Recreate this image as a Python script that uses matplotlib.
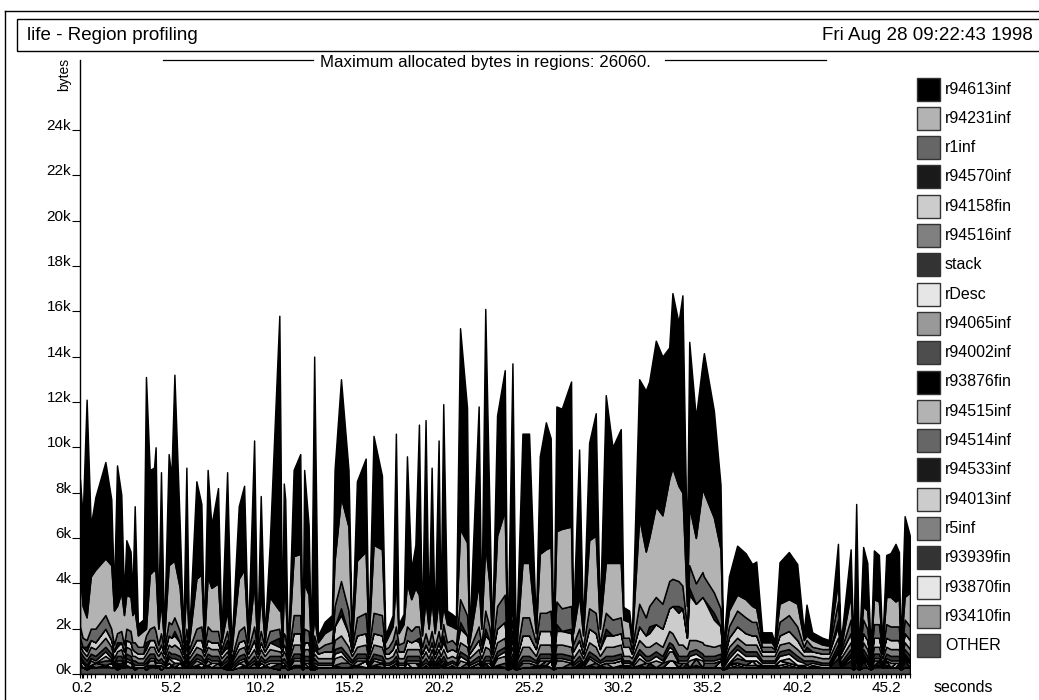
import numpy as np
import matplotlib
matplotlib.use("Agg")
import matplotlib.pyplot as plt
from matplotlib.patches import Rectangle
from matplotlib.lines import Line2D

plt.rcParams['font.family'] = ['Liberation Sans', 'DejaVu Sans']

# ---------------- data ----------------
times = [0.09, 0.24, 0.46, 0.69, 0.95, 1.51, 1.84, 1.99, 2.16, 2.40,
         2.55, 2.68, 2.92, 3.02, 3.15, 3.33, 3.62, 3.78, 3.99, 4.23,
         4.32, 4.47, 4.62, 4.79, 5.05, 5.20, 5.37, 5.67, 5.87, 6.04,
         6.19, 6.60, 6.88, 7.03, 7.23, 7.44, 7.81, 8.00, 8.32, 8.56,
         8.97, 9.27, 9.49, 9.83, 10.01, 10.20, 10.42, 10.70, 11.24, 11.30,
         11.39, 11.49, 11.57, 11.72, 12.04, 12.41, 12.54, 12.63, 12.88, 13.01,
         13.19, 13.40, 13.77, 14.18, 14.33, 14.69, 15.11, 15.30, 15.58, 16.07,
         16.23, 16.51, 16.98, 17.17, 17.35, 17.58, 17.76, 17.91, 18.19, 18.38,
         18.62, 18.85, 19.05, 19.22, 19.42, 19.59, 19.76, 19.93, 20.15, 20.26,
         20.41, 20.62, 20.90, 21.12, 21.35, 21.74, 21.87, 22.39, 22.54, 22.76,
         22.99, 23.14, 23.42, 23.85, 24.00, 24.28, 24.47, 24.84, 25.21, 25.59,
         25.81, 26.15, 26.42, 26.57, 26.74, 27.04, 27.56, 27.67, 28.01, 28.23,
         28.57, 28.94, 29.17, 29.50, 29.88, 30.34, 30.49, 30.81, 30.96, 31.37,
         31.74, 31.93, 32.30, 32.67, 33.05, 33.23, 33.57, 33.79, 34.04, 34.17,
         34.54, 34.91, 34.99, 35.55, 35.92, 36.07, 36.39, 36.85, 37.32, 37.69,
         37.92, 38.25, 38.77, 38.94, 39.22, 39.74, 40.21, 40.58, 40.73, 41.05,
         41.61, 41.98, 42.49, 42.64, 43.20, 43.35, 43.51, 43.66, 43.90, 44.13,
         44.32, 44.50, 44.78, 44.97, 45.19, 45.43, 45.71, 45.90, 45.99, 46.22,
         46.52]

# total allocated (kbytes) read from the top of the stack
total_k = [8.6, 6.9, 12.1, 6.55, 7.8, 9.35, 7.7, 3.6, 9.2, 7.9,
           3.4, 5.9, 5.4, 3.5, 7.4, 2.2, 2.4, 13.1, 9.0, 9.1,
           10.0, 2.5, 8.9, 1.7, 9.7, 8.7, 13.2, 6.55, 1.7, 9.1,
           1.7, 8.5, 7.5, 1.7, 9.0, 6.55, 8.2, 1.7, 8.9, 1.2,
           7.4, 8.3, 1.7, 10.3, 1.5, 7.85, 1.7, 5.7, 15.8, 10.8,
           1.7, 8.4, 7.7, 0.9, 9.0, 9.7, 0.9, 9.0, 6.55, 1.2,
           14.0, 1.7, 2.3, 2.6, 9.0, 13.0, 9.0, 1.7, 8.5, 9.5,
           1.7, 10.5, 8.75, 1.7, 2.1, 2.6, 10.6, 2.2, 2.65, 9.6,
           4.6, 5.7, 11.0, 2.0, 11.2, 2.5, 9.1, 2.2, 10.3, 2.5,
           11.9, 2.8, 2.65, 2.5, 15.25, 11.75, 1.7, 11.8, 2.5, 16.1,
           7.4, 1.7, 11.4, 13.4, 0.9, 13.7, 0.9, 10.6, 10.6, 2.2,
           9.6, 11.1, 10.4, 0.9, 11.8, 11.7, 12.9, 2.2, 9.9, 2.0,
           10.2, 11.5, 2.5, 12.3, 10.0, 10.8, 2.95, 2.8, 1.7, 13.0,
           12.5, 12.9, 14.7, 14.0, 14.4, 16.8, 15.5, 16.7, 5.3, 14.65,
           11.3, 13.7, 14.15, 11.6, 8.35, 1.2, 4.3, 5.66, 5.33, 4.85,
           4.96, 1.84, 1.84, 1.43, 4.93, 5.38, 4.85, 1.84, 3.06, 1.84,
           1.6, 1.5, 5.74, 1.35, 5.5, 1.2, 7.5, 0.9, 5.6, 4.9,
           1.0, 5.45, 5.25, 1.35, 5.25, 5.33, 5.74, 5.38, 1.2, 6.96,
           6.07]

# top of the r94231inf (light grey) band, kbytes
gray_top_k = [4.6, 3.0, 2.5, 4.3, 4.6, 5.1, 4.8, 2.8, 3.0, 3.6,
              2.6, 3.5, 3.4, 2.6, 2.8, 1.7, 1.9, 2.0, 4.4, 4.6,
              4.5, 2.0, 3.2, 1.4, 4.8, 4.9, 5.0, 3.8, 1.4, 3.9,
              1.4, 4.2, 4.4, 1.4, 4.3, 3.8, 4.0, 1.4, 2.8, 1.0,
              4.2, 4.6, 1.4, 4.0, 1.2, 3.6, 1.4, 3.4, 2.8, 3.0,
              1.4, 3.5, 3.5, 0.8, 5.2, 5.3, 0.8, 4.0, 3.5, 1.0,
              2.5, 1.4, 1.8, 2.0, 5.0, 7.8, 6.5, 1.4, 5.0, 5.4,
              1.4, 5.7, 5.5, 1.4, 1.7, 2.1, 4.1, 1.8, 2.2, 4.0,
              3.3, 3.8, 3.5, 1.7, 3.3, 2.0, 3.3, 1.8, 3.3, 2.0,
              3.0, 2.2, 2.1, 2.0, 6.4, 5.8, 1.4, 4.0, 2.0, 5.7,
              4.0, 1.4, 6.1, 7.2, 0.8, 3.0, 0.8, 4.9, 4.9, 1.8,
              5.3, 5.5, 5.6, 0.8, 6.3, 6.4, 6.5, 1.8, 3.5, 1.7,
              5.9, 6.1, 2.0, 4.9, 4.9, 4.9, 2.4, 2.3, 1.4, 6.9,
              5.4, 6.0, 7.4, 7.0, 8.6, 9.1, 8.3, 8.0, 3.0, 7.4,
              6.0, 8.2, 8.0, 6.9, 5.5, 1.0, 2.8, 3.5, 3.3, 3.0,
              2.9, 1.4, 1.4, 1.2, 3.1, 3.3, 3.1, 1.5, 1.7, 1.5,
              1.3, 1.25, 4.1, 1.1, 3.5, 1.0, 2.0, 0.8, 3.0, 2.8,
              0.85, 3.3, 3.2, 1.1, 3.4, 3.4, 3.2, 3.3, 1.0, 3.4,
              3.6]

# lower bands, in units of 100 bytes
other = [3, 3, 2, 3, 3, 3, 3, 3, 2, 3,  3, 3, 3, 3, 2, 3, 3, 2, 3, 3,
         3, 3, 2, 3, 3, 3, 3, 3, 3, 3,  3, 3, 3, 3, 3, 3, 3, 3, 2, 2,
         3, 3, 3, 3, 3, 3, 3, 3, 2, 3,  3, 3, 3, 2, 3, 3, 2, 3, 3, 2,
         2, 3, 3, 3, 3, 3, 3, 3, 3, 3,  3, 3, 3, 3, 3, 3, 3, 3, 3, 3,
         3, 3, 3, 3, 3, 3, 3, 3, 3, 3,  3, 3, 3, 3, 3, 3, 3, 3, 3, 3,
         3, 3, 3, 3, 2, 3, 2, 3, 3, 3,  3, 3, 3, 2, 3, 3, 3, 3, 3, 3,
         3, 3, 3, 3, 3, 3, 3, 3, 3, 3,  3, 3, 3, 3, 3, 3, 3, 3, 3, 3,
         3, 3, 3, 3, 3, 2, 3, 3, 3, 3,  3, 3, 3, 3, 3, 3, 3, 3, 3, 3,
         3, 3, 3, 3, 3, 2, 3, 2, 3, 3,  2, 3, 3, 3, 3, 3, 3, 3, 2, 3,
         3]
rdesc = [1, 1, 1, 1, 1, 2, 1, 1, 1, 1,  1, 1, 1, 1, 1, 1, 1, 1, 1, 1,
         1, 1, 1, 1, 1, 1, 2, 1, 1, 1,  1, 1, 1, 1, 1, 1, 1, 1, 1, 1,
         1, 1, 1, 1, 1, 1, 1, 1, 1, 1,  1, 1, 1, 1, 1, 1, 1, 1, 1, 1,
         1, 1, 1, 1, 2, 2, 1, 1, 1, 1,  1, 1, 1, 1, 1, 1, 1, 1, 1, 1,
         1, 1, 1, 1, 1, 1, 1, 1, 1, 1,  1, 1, 1, 1, 2, 1, 1, 1, 1, 1,
         1, 1, 1, 2, 1, 1, 1, 1, 1, 1,  1, 1, 1, 1, 1, 1, 1, 1, 1, 1,
         1, 1, 1, 1, 1, 1, 1, 1, 1, 2,  1, 1, 2, 1, 2, 1, 1, 1, 1, 2,
         2, 1, 1, 1, 1, 1, 2, 2, 2, 2,  2, 1, 1, 1, 2, 2, 2, 1, 1, 1,
         1, 1, 1, 1, 1, 1, 1, 1, 1, 1,  1, 1, 1, 1, 1, 1, 1, 1, 1, 1,
         1]
stack = [2, 2, 2, 2, 2, 2, 2, 1, 2, 2,  1, 2, 2, 1, 2, 1, 1, 2, 2, 2,
         2, 1, 2, 1, 2, 2, 2, 2, 1, 2,  1, 2, 2, 1, 2, 2, 2, 1, 2, 1,
         2, 2, 1, 2, 1, 2, 1, 2, 2, 2,  1, 2, 2, 1, 2, 2, 1, 2, 2, 1,
         2, 1, 1, 1, 2, 2, 2, 1, 2, 2,  1, 2, 2, 1, 1, 1, 2, 1, 1, 2,
         2, 2, 2, 1, 2, 1, 2, 1, 2, 1,  2, 1, 1, 1, 2, 2, 1, 2, 1, 2,
         2, 1, 2, 2, 1, 2, 1, 2, 2, 1,  2, 2, 2, 1, 2, 2, 2, 1, 2, 1,
         2, 2, 1, 2, 2, 2, 1, 1, 1, 2,  2, 2, 2, 2, 2, 2, 2, 2, 2, 2,
         2, 2, 2, 2, 2, 1, 2, 2, 2, 2,  2, 1, 1, 1, 2, 2, 2, 1, 2, 1,
         1, 1, 2, 1, 2, 1, 2, 1, 2, 2,  1, 2, 2, 1, 2, 2, 2, 2, 1, 2,
         2]
r94516inf = [3, 2, 2, 3, 3, 4, 3, 2, 2, 3,  2, 3, 3, 2, 2, 2, 2, 2, 3, 3,
             3, 2, 3, 2, 3, 3, 4, 3, 2, 3,  2, 3, 3, 2, 3, 3, 3, 2, 2, 1,
             3, 3, 2, 3, 2, 3, 2, 3, 2, 2,  2, 3, 3, 1, 4, 4, 1, 3, 3, 1,
             2, 2, 2, 2, 4, 5, 4, 2, 3, 4,  2, 4, 4, 2, 2, 2, 3, 2, 2, 3,
             3, 3, 3, 2, 3, 2, 3, 2, 3, 2,  3, 2, 2, 2, 4, 4, 2, 3, 2, 4,
             3, 2, 4, 4, 1, 3, 1, 4, 4, 2,  4, 4, 4, 1, 4, 4, 4, 2, 3, 2,
             4, 4, 2, 4, 4, 4, 2, 2, 2, 4,  4, 4, 4, 4, 5, 5, 5, 5, 3, 5,
             4, 5, 5, 4, 4, 1, 3, 3, 3, 3,  3, 2, 2, 2, 3, 3, 3, 2, 2, 2,
             2, 2, 3, 2, 3, 1, 2, 1, 3, 3,  1, 3, 3, 2, 3, 3, 3, 3, 1, 3,
             3]
r94158fin = [3, 2, 2, 3, 3, 4, 3, 3, 2, 3,  3, 3, 3, 3, 2, 2, 2, 2, 3, 3,
             3, 2, 3, 2, 4, 4, 4, 3, 2, 3,  2, 3, 4, 2, 3, 3, 3, 2, 2, 1,
             3, 3, 2, 4, 2, 3, 2, 3, 2, 2,  2, 3, 3, 1, 5, 5, 1, 3, 3, 1,
             2, 2, 3, 3, 6, 9, 6, 2, 5, 5,  2, 5, 5, 2, 2, 3, 4, 3, 3, 4,
             3, 4, 3, 2, 3, 3, 3, 2, 3, 3,  3, 3, 3, 3, 6, 5, 2, 4, 3, 5,
             4, 2, 6, 7, 1, 3, 1, 5, 5, 3,  6, 6, 6, 1, 6, 6, 6, 3, 4, 2,
             6, 6, 3, 5, 5, 5, 4, 4, 2, 6,  5, 6, 8, 8, 10, 12, 14, 16, 5, 20,
             16, 20, 20, 12, 8, 1, 4, 5, 5, 4,  4, 2, 2, 2, 4, 5, 4, 2, 2, 2,
             2, 2, 5, 2, 4, 1, 2, 1, 4, 4,  1, 4, 4, 2, 4, 4, 4, 4, 1, 4,
             4]
r1inf = [5, 4, 3, 5, 6, 6, 5, 3, 4, 5,  3, 5, 5, 3, 4, 3, 3, 3, 5, 6,
         6, 3, 5, 2, 6, 6, 6, 5, 2, 5,  2, 5, 6, 2, 6, 5, 5, 2, 4, 1,
         5, 6, 2, 6, 2, 5, 2, 5, 4, 4,  2, 5, 5, 1, 8, 8, 1, 6, 5, 1,
         3, 2, 3, 4, 9, 12, 10, 2, 8, 9,  2, 9, 9, 2, 3, 4, 6, 3, 4, 6,
         5, 6, 5, 3, 5, 3, 5, 3, 5, 3,  5, 4, 4, 3, 10, 9, 2, 6, 3, 8,
         6, 2, 10, 12, 1, 5, 1, 8, 8, 3,  8, 8, 9, 1, 10, 10, 10, 3, 5, 3,
         9, 9, 3, 7, 7, 7, 4, 4, 2, 10,  8, 9, 12, 11, 12, 12, 11, 10, 5, 10,
         9, 11, 10, 9, 8, 1, 5, 7, 7, 6,  6, 2, 2, 1, 6, 7, 6, 2, 3, 2,
         2, 2, 8, 1, 6, 1, 3, 1, 6, 5,  1, 6, 6, 1, 6, 6, 6, 6, 1, 6,
         6]

# smaller regions: {sample index: units of 100 bytes}
r94570inf_pts = {2: 2, 8: 2, 17: 3, 26: 2, 38: 3, 48: 4, 60: 3, 65: 3, 82: 2, 90: 3,
                 94: 3, 99: 3, 105: 4, 114: 3, 116: 2, 123: 3, 131: 3, 136: 3,
                 139: 3, 143: 3, 158: 2, 162: 3}
r94065inf_pts = {0: 2, 3: 2, 5: 2, 9: 1, 18: 2, 19: 2, 24: 2, 25: 2, 31: 2, 34: 2,
                 41: 2, 54: 2, 55: 2, 64: 3, 65: 3, 68: 2, 71: 2, 94: 3, 102: 3,
                 103: 3, 110: 2, 114: 3, 115: 3, 120: 3, 129: 3, 132: 3, 134: 4,
                 135: 4, 139: 3, 141: 3, 147: 2, 155: 2, 171: 2, 175: 2}
r94002inf_pts = {5: 2, 6: 1, 26: 2, 65: 2, 66: 2, 95: 2, 103: 2, 116: 2, 121: 2,
                 133: 2, 136: 2, 142: 2, 143: 2, 147: 2, 148: 2}
r93876fin_pts = {8: 2, 20: 1, 38: 3, 60: 2, 82: 2, 90: 2, 105: 3, 118: 2, 166: 3,
                 168: 2, 179: 2}
r94515inf_pts = {1: 2, 11: 2, 12: 2, 27: 2, 35: 2, 47: 2, 58: 2, 80: 2, 81: 2, 100: 2,
                 124: 2, 125: 2, 144: 3, 150: 2, 169: 2, 176: 2}
r94514inf_pts = {4: 2, 14: 1, 22: 2, 29: 2, 36: 2, 43: 2, 57: 2, 72: 2, 76: 2, 97: 2,
                 107: 2, 108: 2, 111: 2, 123: 2, 130: 2, 137: 2, 140: 3, 162: 3,
                 164: 2, 174: 2, 180: 2}
r94533inf_pts = {17: 2, 48: 3, 49: 2, 86: 2, 88: 2, 99: 2, 131: 2, 138: 2, 146: 1,
                 162: 4, 164: 3, 166: 4, 168: 3, 172: 2, 177: 2, 179: 3}
r94013inf_pts = {6: 2, 24: 2, 32: 2, 40: 2, 45: 2, 69: 3, 79: 2, 112: 3, 134: 3,
                 135: 3, 149: 2, 154: 2}
r5inf_pts = {0: 1, 13: 1, 21: 1, 33: 1, 50: 1, 67: 1, 75: 1, 92: 1, 127: 1, 152: 1,
             157: 1, 159: 1}
r93939fin_pts = {2: 1, 8: 1, 29: 1, 51: 1, 84: 1, 109: 1, 122: 1, 126: 1, 151: 1, 153: 1}
r93870fin_pts = {3: 1, 9: 1, 18: 1, 31: 1, 41: 1, 54: 1, 64: 1, 71: 1, 102: 1, 110: 1,
                 120: 1, 129: 1, 146: 1, 147: 1, 148: 1, 149: 1, 150: 1, 154: 1,
                 155: 1, 156: 1, 171: 1, 174: 1}
r93410fin_pts = {0: 1, 5: 1, 11: 1, 19: 1, 25: 1, 34: 1, 46: 1, 55: 1, 68: 1, 89: 1,
                 111: 1, 125: 1, 140: 1, 147: 1, 155: 1, 172: 1}

legend_names = ["r94613inf", "r94231inf", "r1inf", "r94570inf", "r94158fin",
                "r94516inf", "stack", "rDesc", "r94065inf", "r94002inf",
                "r93876fin", "r94515inf", "r94514inf", "r94533inf", "r94013inf",
                "r5inf", "r93939fin", "r93870fin", "r93410fin", "OTHER"]
grey_levels = [0.0, 0.7, 0.4, 0.1, 0.8, 0.5, 0.2, 0.9, 0.6, 0.3,
               0.0, 0.7, 0.4, 0.1, 0.8, 0.5, 0.2, 0.9, 0.6, 0.3]

x_labels = ["0.2", "5.2", "10.2", "15.2", "20.2", "25.2", "30.2", "35.2", "40.2", "45.2"]
y_ticks_k = [0, 2, 4, 6, 8, 10, 12, 14, 16, 18, 20, 22, 24]

# ---------------- build layers ----------------
N = len(times)
for arr in (total_k, gray_top_k, other, rdesc, stack, r94516inf, r94158fin, r1inf):
    assert len(arr) == N, len(arr)


def dense(pts):
    a = np.zeros(N)
    for k, v in pts.items():
        a[k] = v
    return a * 100.0


lower = {
    "OTHER": np.array(other) * 100.0,
    "r93410fin": dense(r93410fin_pts),
    "r93870fin": dense(r93870fin_pts),
    "r93939fin": dense(r93939fin_pts),
    "r5inf": dense(r5inf_pts),
    "r94013inf": dense(r94013inf_pts),
    "r94533inf": dense(r94533inf_pts),
    "r94514inf": dense(r94514inf_pts),
    "r94515inf": dense(r94515inf_pts),
    "r93876fin": dense(r93876fin_pts),
    "r94002inf": dense(r94002inf_pts),
    "r94065inf": dense(r94065inf_pts),
    "rDesc": np.array(rdesc) * 100.0,
    "stack": np.array(stack) * 100.0,
    "r94516inf": np.array(r94516inf) * 100.0,
    "r94158fin": np.array(r94158fin) * 100.0,
    "r94570inf": dense(r94570inf_pts),
    "r1inf": np.array(r1inf) * 100.0,
}
base = sum(lower.values())
G = np.array(gray_top_k) * 1000.0
T = np.array(total_k) * 1000.0
lgray = np.maximum(G - base, 0)
black = np.maximum(T - base - lgray, 0)
layers = dict(lower)
layers["r94231inf"] = lgray
layers["r94613inf"] = black

order = list(reversed(legend_names))   # bottom to top
colors = {n: (g, g, g) for n, g in zip(legend_names, grey_levels)}

# ---------------- figure ----------------
W, H = 1039, 700
fig = plt.figure(figsize=(W / 100, H / 100), dpi=100)
fig.patch.set_facecolor("white")

ax_l, ax_r, ax_t, ax_b = 80, 910, 60, 674
ax = fig.add_axes([ax_l / W, (H - ax_b) / H, (ax_r - ax_l) / W, (ax_b - ax_t) / H])
ax.stackplot(times, [layers[n] for n in order], colors=[colors[n] for n in order],
             edgecolor="black", linewidth=1.05)
ax.set_xlim(0.09, 46.52)
ax.set_ylim(0, 27080)
for s in ("top", "right"):
    ax.spines[s].set_visible(False)
for s in ("left", "bottom"):
    ax.spines[s].set_linewidth(1.0)

x_vals = [float(s) for s in x_labels]
ax.set_xticks(x_vals)
ax.set_xticks(times, minor=True)
ax.tick_params(axis="x", which="both", direction="out", length=3.2, width=0.8,
               labelbottom=False)
ax.set_yticks([v * 1000 for v in y_ticks_k])
ax.tick_params(axis="y", which="major", direction="out", length=5.8, width=0.8,
               labelleft=False)

xt = ax.get_xaxis_transform()
for v, s in zip(x_vals, x_labels):
    ax.text(v, -0.023, s, transform=xt, ha="center", va="center", fontsize=11)
yt = ax.get_yaxis_transform()
for v in y_ticks_k:
    ax.text(-0.0105, v * 1000, f"{v}k", transform=yt, ha="right", va="baseline",
            fontsize=11)

# overlay in pixel coordinates
ov = fig.add_axes([0, 0, 1, 1], zorder=5)
ov.set_xlim(0, W)
ov.set_ylim(H, 0)
ov.axis("off")

# frames
ov.add_line(Line2D([5, W + 5], [11, 11], color="black", lw=1.0))
ov.add_line(Line2D([5, 5], [11, H + 5], color="black", lw=1.0))
ov.add_patch(Rectangle((17, 19), W, 32, fill=False, edgecolor="black", lw=1.0))
ov.text(27, 35.5, "life - Region profiling", fontsize=13.5, ha="left", va="center")
ov.text(1033, 35.5, "Fri Aug 28 09:22:43 1998", fontsize=13.5, ha="right", va="center")

# subtitle with side rules
ov.text(485, 62, "Maximum allocated bytes in regions: 26060.", fontsize=12.2,
        ha="center", va="center")
ov.add_line(Line2D([163, 313], [59.5, 59.5], color="black", lw=0.9))
ov.add_line(Line2D([665, 826], [59.5, 59.5], color="black", lw=0.9))

ov.text(64, 74, "bytes", rotation=90, fontsize=10, ha="center", va="center")
ov.text(963, 688, "seconds", fontsize=11.5, ha="center", va="center")

# legend
for i, n in enumerate(legend_names):
    yc = 89 + i * 29.3
    ov.add_patch(Rectangle((917, yc - 11.5), 23, 23, facecolor=colors[n],
                           edgecolor="#333333", lw=1.0))
    ov.text(945, yc, n, fontsize=11.5, ha="left", va="center")

fig.savefig("out.png", dpi=100)
